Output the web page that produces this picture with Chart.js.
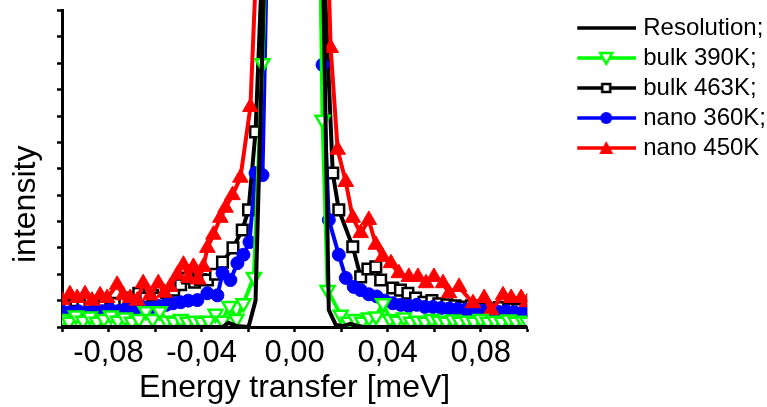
<!DOCTYPE html>
<html>
<head>
<meta charset="utf-8">
<script src="https://cdn.jsdelivr.net/npm/chart.js@4"></script>
<style>
  html, body { margin: 0; padding: 0; background: #fff; }
  #wrap { width: 767px; height: 407px; }
</style>
</head>
<body>
<div id="wrap"><canvas id="chart"></canvas></div>
<script>
// series labels
const seriesNames = ['Resolution;', 'bulk 390K;', 'bulk 463K;', 'nano 360K;', 'nano 450K'];

// x tick values (meV); every second one carries a label
const xTicks = [-0.1, -0.08, -0.06, -0.04, -0.02, 0, 0.02, 0.04, 0.06, 0.08, 0.1];

// resolution
const resX = [-0.1, -0.031, -0.0285, -0.025, -0.0198, -0.0168, -0.0125, 0, 0.012, 0.0147, 0.0177, 0.021, 0.024, 0.027, 0.03, 0.1];
const resY = [0, 0, 0.08, 0.02, 0, 0.5, 7.5, 40, 7.3, 0.32, 0.04, 0.02, 0.06, 0.02, 0, 0];

// bulk 390K
const b390X = [-0.1, -0.097, -0.094, -0.091, -0.088, -0.085, -0.082, -0.079, -0.076, -0.073, -0.07, -0.067, -0.064, -0.061, -0.058, -0.055, -0.052, -0.049, -0.046, -0.043, -0.04, -0.037, -0.034, -0.031, -0.028, -0.025, -0.022, -0.0175, -0.0138, -0.011,
  0.0105, 0.012, 0.0142, 0.0198, 0.023, 0.026, 0.029, 0.032, 0.035, 0.038, 0.041, 0.044, 0.047, 0.05, 0.053, 0.056, 0.059, 0.062, 0.065, 0.068, 0.071, 0.074, 0.077, 0.08, 0.083, 0.086, 0.089, 0.092, 0.095, 0.098, 0.1];
const b390Y = [0.15, 0.1, 0.22, 0.12, 0.2, 0.1, 0.15, 0.22, 0.12, 0.18, 0.1, 0.15, 0.3, 0.15, 0.3, 0.12, 0.1, 0.15, 0.1, 0.12, 0.1, 0.12, 0.25, 0.12, 0.4, 0.15, 0.45, 0.95, 5.0, 9,
  9, 3.93, 0.7, 0.23, 0.1, 0.15, 0.1, 0.18, 0.2, 0.45, 0.15, 0.12, 0.18, 0.1, 0.12, 0.1, 0.15, 0.12, 0.1, 0.14, 0.1, 0.12, 0.1, 0.15, 0.1, 0.12, 0.1, 0.14, 0.1, 0.12, 0.1];

// bulk 463K
const b463X = [-0.1, -0.097, -0.094, -0.091, -0.088, -0.085, -0.082, -0.079, -0.076, -0.073, -0.07, -0.067, -0.064, -0.061, -0.058, -0.055, -0.052, -0.049, -0.046, -0.043, -0.0405, -0.0375, -0.034, -0.031, -0.0265, -0.0225, -0.0198, -0.0168, -0.012,
  0.0105, 0.0164, 0.019, 0.025, 0.0284, 0.0315, 0.0349, 0.037, 0.0422, 0.0455, 0.0487, 0.052, 0.0556, 0.059, 0.062, 0.0655, 0.069, 0.072, 0.076, 0.08, 0.084, 0.088, 0.092, 0.096, 0.1];
const b463Y = [0.45, 0.4, 0.5, 0.42, 0.48, 0.4, 0.45, 0.36, 0.45, 0.5, 0.55, 0.64, 0.55, 0.6, 0.55, 0.65, 0.7, 0.8, 0.93, 0.85, 0.9, 0.89, 1.0, 1.23, 1.5, 1.84, 2.22, 3.7, 9,
  9, 2.92, 2.22, 1.52, 0.95, 1.1, 1.14, 0.89, 0.74, 0.7, 0.64, 0.55, 0.47, 0.5, 0.44, 0.42, 0.4, 0.38, 0.4, 0.36, 0.35, 0.37, 0.34, 0.33, 0.32];

// nano 360K
const n360X = [-0.1, -0.0966, -0.093, -0.0897, -0.086, -0.0828, -0.0793, -0.0759, -0.0724, -0.069, -0.0655, -0.062, -0.0586, -0.0552, -0.0522, -0.049, -0.0457, -0.0418, -0.0375, -0.0332, -0.031, -0.0276, -0.0246, -0.022, -0.0194, -0.0168, -0.0138, -0.011,
  0.0105, 0.012, 0.0147, 0.019, 0.022, 0.0254, 0.0284, 0.0319, 0.0353, 0.0388, 0.0422, 0.0457, 0.049, 0.0525, 0.056, 0.0595, 0.063, 0.0665, 0.07, 0.0735, 0.077, 0.0805, 0.084, 0.0875, 0.091, 0.0945, 0.098, 0.1];
const n360Y = [0.3, 0.28, 0.3, 0.27, 0.32, 0.3, 0.33, 0.3, 0.35, 0.33, 0.38, 0.36, 0.4, 0.42, 0.45, 0.47, 0.5, 0.51, 0.64, 0.6, 1.02, 0.89, 1.21, 1.37, 1.61, 2.92, 2.88, 9,
  9, 4.97, 2.03, 1.37, 0.93, 0.76, 0.7, 0.62, 0.58, 0.5, 0.45, 0.42, 0.4, 0.42, 0.38, 0.38, 0.36, 0.35, 0.34, 0.33, 0.32, 0.31, 0.3, 0.29, 0.3, 0.28, 0.27, 0.27];

// nano 450K
const n450X = [-0.1, -0.0966, -0.0935, -0.0901, -0.0871, -0.0836, -0.0806, -0.0763, -0.0737, -0.0707, -0.0677, -0.0651, -0.0621, -0.0586, -0.056, -0.0535, -0.0504, -0.0478, -0.0457, -0.0435, -0.0414, -0.0392, -0.0375, -0.0349, -0.0319, -0.0297, -0.0267, -0.0233, -0.019, -0.0145,
  0.013, 0.0155, 0.0185, 0.022, 0.025, 0.0284, 0.0319, 0.0349, 0.0379, 0.0414, 0.0448, 0.0491, 0.053, 0.0565, 0.0599, 0.0638, 0.0664, 0.0707, 0.0767, 0.0815, 0.0845, 0.0896, 0.0931, 0.0974, 0.1];
const n450Y = [0.51, 0.62, 0.55, 0.62, 0.5, 0.6, 0.55, 0.8, 0.6, 0.55, 0.5, 0.83, 0.6, 0.83, 0.65, 0.76, 0.99, 1.18, 0.93, 1.14, 0.9, 1.14, 1.5, 1.75, 2.07, 2.26, 2.5, 2.83, 4.17, 9,
  9, 5.29, 3.36, 2.75, 2.07, 1.78, 2.03, 1.56, 1.33, 1.21, 1.02, 0.95, 0.95, 0.83, 0.95, 0.83, 0.64, 0.76, 0.45, 0.55, 0.32, 0.6, 0.55, 0.55, 0.47];

const pts = (xs, ys) => xs.map((x, i) => ({x: x, y: ys[i]}));

const FONT = 'Liberation Sans, Arial, sans-serif';

// legend icons: empty left part (the gap after the plot), then line + marker
function legendIcon(color, marker) {
  const c = document.createElement('canvas');
  c.width = 108; c.height = 20;
  const g = c.getContext('2d');
  const m = 78;
  g.strokeStyle = color;
  g.lineWidth = 3.5;
  g.beginPath(); g.moveTo(49, 10); g.lineTo(108, 10); g.stroke();
  g.lineWidth = 2.5;
  if (marker === 'down') {
    g.beginPath(); g.moveTo(m - 6, 5); g.lineTo(m + 6, 5); g.lineTo(m, 16); g.closePath();
    g.fillStyle = '#fff'; g.fill(); g.stroke();
  } else if (marker === 'square') {
    g.fillStyle = '#fff'; g.fillRect(m - 4, 6, 8, 8); g.strokeRect(m - 4, 6, 8, 8);
  } else if (marker === 'circle') {
    g.beginPath(); g.arc(m, 10, 6, 0, Math.PI * 2); g.fillStyle = color; g.fill();
  } else if (marker === 'up') {
    g.beginPath(); g.moveTo(m - 7, 16); g.lineTo(m + 7, 16); g.lineTo(m, 3); g.closePath();
    g.fillStyle = color; g.fill();
  }
  return c;
}
const icons = [
  legendIcon('#000', null),
  legendIcon('#00ff00', 'down'),
  legendIcon('#000', 'square'),
  legendIcon('#0000ff', 'circle'),
  legendIcon('#ff0000', 'up')
];

const clipArea = {left: 0, top: 11, right: 0, bottom: 0};

const ctx = document.getElementById('chart').getContext('2d');
const chart = new Chart(ctx, {
  type: 'line',
  data: {
    datasets: [
      {
        label: seriesNames[0], data: pts(resX, resY),
        borderColor: '#000', borderWidth: 4, pointRadius: 0, order: 0, clip: clipArea
      },
      {
        label: seriesNames[1], data: pts(b390X, b390Y),
        borderColor: '#00ff00', borderWidth: 4,
        pointStyle: 'triangle', pointRotation: 180, pointRadius: 8,
        pointBorderWidth: 2.5, pointBorderColor: '#00ff00', pointBackgroundColor: '#fff',
        order: 1, clip: clipArea
      },
      {
        label: seriesNames[2], data: pts(b463X, b463Y),
        borderColor: '#000', borderWidth: 4,
        pointStyle: 'rect', pointRadius: 7.5,
        pointBorderWidth: 2.5, pointBorderColor: '#000', pointBackgroundColor: '#fff',
        order: 4, clip: clipArea
      },
      {
        label: seriesNames[3], data: pts(n360X, n360Y),
        borderColor: '#0000ff', borderWidth: 4,
        pointStyle: 'circle', pointRadius: 6.5,
        pointBorderWidth: 1, pointBorderColor: '#0000ff', pointBackgroundColor: '#0000ff',
        order: 3, clip: clipArea
      },
      {
        label: seriesNames[4], data: pts(n450X, n450Y),
        borderColor: '#ff0000', borderWidth: 4,
        pointStyle: 'triangle', pointRadius: 9,
        pointBorderWidth: 1, pointBorderColor: '#ff0000', pointBackgroundColor: '#ff0000',
        order: 2, clip: clipArea
      }
    ]
  },
  options: {
    responsive: true,
    maintainAspectRatio: false,
    animation: false,
    layout: {padding: {top: 10, left: 0, right: -9, bottom: 0}},
    elements: {line: {tension: 0}},
    plugins: {
      tooltip: {enabled: false},
      legend: {
        position: 'right',
        align: 'start',
        maxWidth: 300,
        labels: {
          usePointStyle: true,
          pointStyleWidth: 98,
          padding: 6,
          color: '#000',
          font: {family: FONT, size: 24},
          generateLabels: (ch) => ch.data.datasets.map((ds, i) => ({
            text: ds.label,
            pointStyle: icons[i],
            fillStyle: 'transparent',
            strokeStyle: 'transparent',
            lineWidth: 0,
            fontColor: '#000',
            hidden: false,
            datasetIndex: i
          }))
        }
      }
    },
    scales: {
      x: {
        type: 'linear',
        min: -0.1, max: 0.1,
        afterBuildTicks: (s) => { s.ticks = xTicks.map(v => ({value: v})); },
        border: {color: '#000', width: 3},
        grid: {drawOnChartArea: false, drawTicks: true, tickLength: 5, tickWidth: 2.5, tickColor: '#000'},
        ticks: {
          autoSkip: false, maxRotation: 0, padding: 3, color: '#000',
          font: {family: FONT, size: 31},
          callback: (v, i) => {
            if (i % 2 === 0) return '';
            const s = Math.abs(v).toFixed(2).replace('.', ',');
            return (v < -1e-9 ? '-' : '') + s;
          }
        },
        title: {display: true, text: 'Energy transfer [meV]', color: '#000', font: {family: FONT, size: 32}, padding: {top: 0, bottom: 0}},
        afterFit: (s) => { s.height = 80; }
      },
      y: {
        type: 'linear',
        min: 0, max: 6,
        border: {color: '#000', width: 3},
        grid: {drawOnChartArea: false, drawTicks: true, tickLength: 5, tickWidth: 2.5, tickColor: '#000'},
        ticks: {display: false, stepSize: 0.5},
        title: {display: true, text: 'intensity\u00a0\u00a0\u00a0\u00a0\u00a0\u00a0\u00a0\u00a0', color: '#000', font: {family: FONT, size: 32}, padding: {top: 7, bottom: 0}},
        afterFit: (s) => { s.width = 62; }
      }
    }
  }
});
</script>
</body>
</html>
